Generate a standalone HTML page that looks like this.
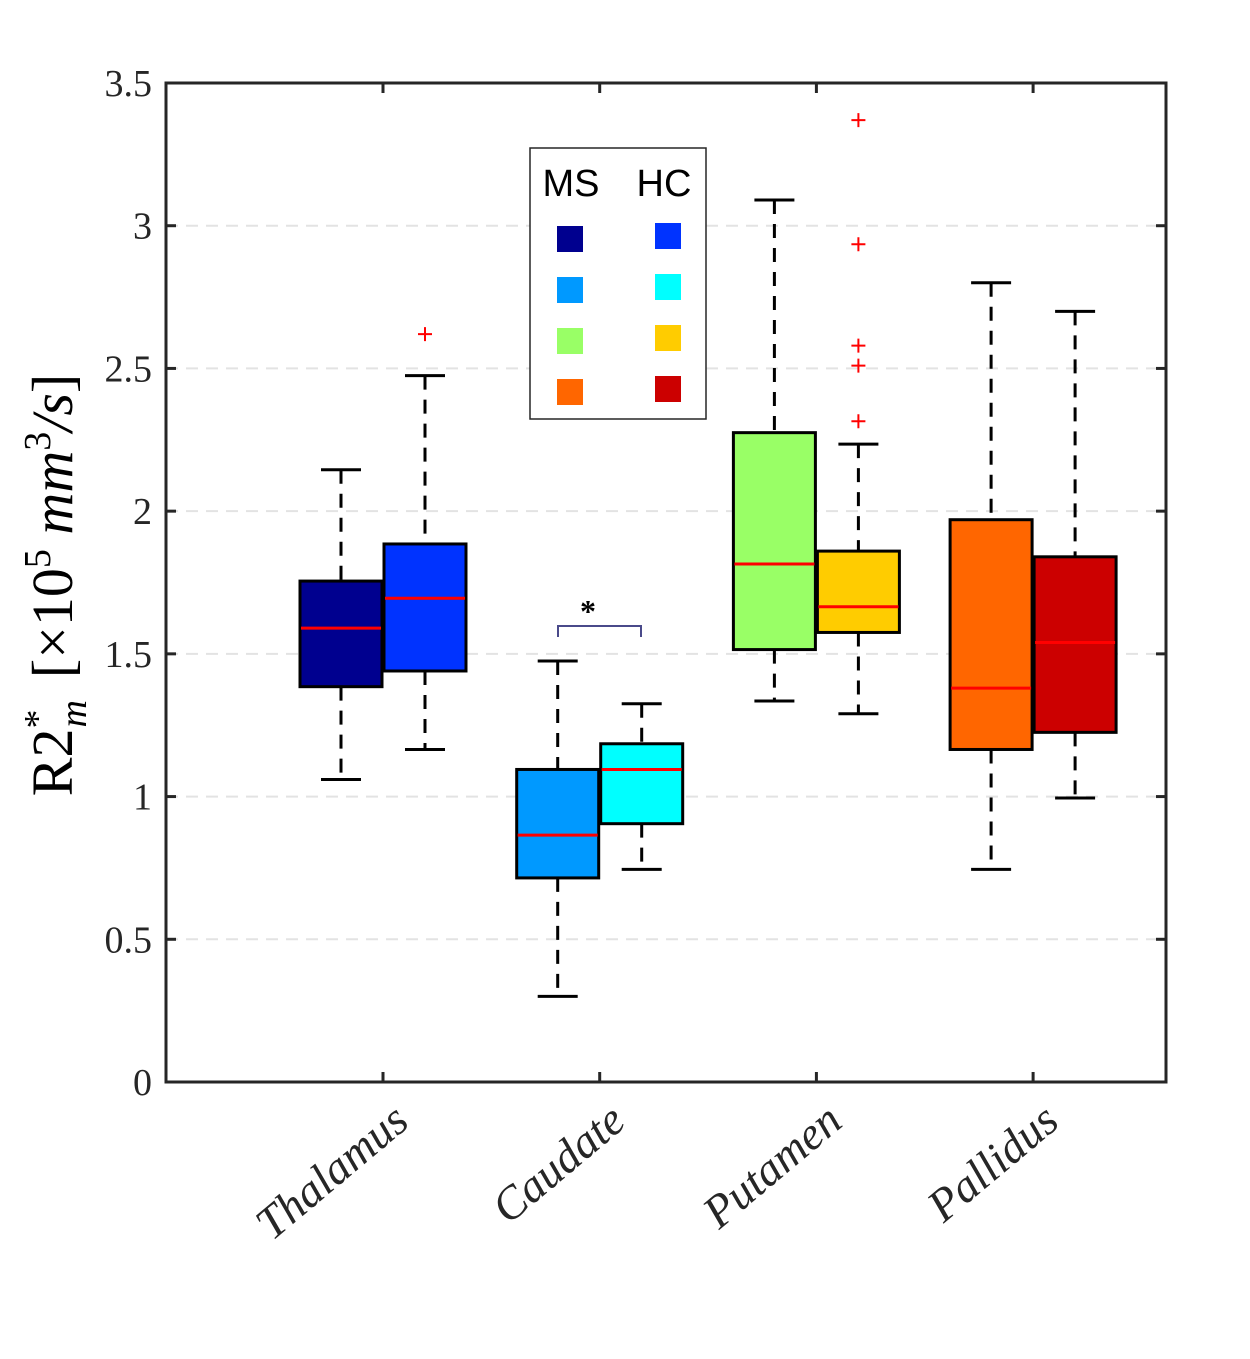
<!DOCTYPE html>
<html><head><meta charset="utf-8"><style>
html,body{margin:0;padding:0;background:#fff;}
svg text{font-family:"Liberation Serif",serif;}
</style></head><body>
<svg id="chart" width="1250" height="1354" xmlns="http://www.w3.org/2000/svg">
<g id="grid"></g>
<g id="boxes"></g>
<rect x="166" y="83" width="1000" height="999" fill="none" stroke="#262626" stroke-width="3"/>
<g id="axes"></g>
<g>
<path d="M558 637 V626 H641 V637" fill="none" stroke="#4a4a8a" stroke-width="2"/>
<text x="588" y="622" font-size="32" text-anchor="middle" font-family="Liberation Sans,sans-serif" font-weight="bold">*</text>
</g>
<g>
<rect x="530" y="148" width="176" height="271" fill="#fff" stroke="#262626" stroke-width="1.5"/>
<text x="571" y="196" font-size="38" text-anchor="middle" style="font-family:'Liberation Sans',sans-serif">MS</text>
<text x="664" y="196" font-size="38" text-anchor="middle" style="font-family:'Liberation Sans',sans-serif">HC</text>
<g id="legend-swatches"></g>
</g>
<text transform="translate(72,585) rotate(-90)" font-size="58" text-anchor="middle">R2<tspan font-size="38" dy="-22">*</tspan><tspan font-size="38" font-style="italic" dy="36" dx="-18">m</tspan><tspan dy="-14" dx="22">[×10</tspan><tspan font-size="38" dy="-22">5</tspan><tspan dy="22" font-style="italic"> mm</tspan><tspan font-size="38" dy="-22">3</tspan><tspan dy="22" font-style="italic">/s</tspan>]</text>
</svg>
<script>
const categories=["Thalamus","Caudate","Putamen","Pallidus"];
const msLow=[1.06,0.30,1.335,0.745];
const msQ1=[1.385,0.715,1.515,1.165];
const msMed=[1.59,0.865,1.815,1.38];
const msQ3=[1.755,1.095,2.275,1.97];
const msHigh=[2.145,1.475,3.09,2.80];
const hcLow=[1.165,0.745,1.29,0.995];
const hcQ1=[1.44,0.905,1.575,1.225];
const hcMed=[1.695,1.095,1.665,1.54];
const hcQ3=[1.885,1.185,1.86,1.84];
const hcHigh=[2.475,1.325,2.235,2.70];
const hcOutliers=[[2.62],[],[2.315,2.51,2.58,2.935,3.37],[]];
const msOutliers=[[],[],[],[]];
const yTicks=[0,0.5,1,1.5,2,2.5,3,3.5];
const msColors=["#00008f","#0099ff","#99ff66","#ff6600"];
const hcColors=["#0033ff","#00ffff","#ffcc00","#cc0000"];
const NS="http://www.w3.org/2000/svg";
const y=v=>1082-v*(999/3.5);
const x=i=>383+i*216.7;
function mk(tag,attrs,parent){const e=document.createElementNS(NS,tag);for(const k in attrs)e.setAttribute(k,attrs[k]);parent.appendChild(e);return e;}
const grid=document.getElementById('grid'),axes=document.getElementById('axes'),boxes=document.getElementById('boxes');
yTicks.forEach(t=>{
  if(t>0&&t<3.5){const g=mk('line',{x1:166,x2:1166,y1:y(t),y2:y(t),stroke:'#e3e3e3','stroke-width':2,'stroke-dasharray':'12,8'},grid);
  
  }
  mk('line',{x1:166,x2:176,y1:y(t),y2:y(t),stroke:'#262626','stroke-width':3},axes);
  mk('line',{x1:1156,x2:1166,y1:y(t),y2:y(t),stroke:'#262626','stroke-width':3},axes);
  const tx=mk('text',{x:152,y:y(t)+13,'font-size':38,'text-anchor':'end',fill:'#262626'},axes);
  tx.textContent=String(t);
  
  
});
categories.forEach((c,i)=>{
  const cx=x(i);
  mk('line',{x1:cx,x2:cx,y1:1082,y2:1072,stroke:'#262626','stroke-width':3},axes);
  mk('line',{x1:cx,x2:cx,y1:83,y2:93,stroke:'#262626','stroke-width':3},axes);
  const t=mk('text',{x:0,y:0,'font-size':46,'font-style':'italic','text-anchor':'end',transform:`translate(${cx+28},${1125}) rotate(-40)`,fill:'#262626'},axes);
  t.textContent=c;
  
  
  [[-42,msLow,msQ1,msMed,msQ3,msHigh,msColors,msOutliers,'ms'],[42,hcLow,hcQ1,hcMed,hcQ3,hcHigh,hcColors,hcOutliers,'hc']].forEach(s=>{
    const bx=cx+s[0],g=mk('g',{},boxes);
    
    
    mk('line',{x1:bx,x2:bx,y1:y(s[5][i]),y2:y(s[4][i]),stroke:'#000','stroke-width':3,'stroke-dasharray':'14,10'},g);
    mk('line',{x1:bx,x2:bx,y1:y(s[2][i]),y2:y(s[1][i]),stroke:'#000','stroke-width':3,'stroke-dasharray':'14,10'},g);
    mk('line',{x1:bx-20,x2:bx+20,y1:y(s[5][i]),y2:y(s[5][i]),stroke:'#000','stroke-width':3},g);
    mk('line',{x1:bx-20,x2:bx+20,y1:y(s[1][i]),y2:y(s[1][i]),stroke:'#000','stroke-width':3},g);
    mk('rect',{x:bx-41,y:y(s[4][i]),width:82,height:y(s[2][i])-y(s[4][i]),fill:s[6][i],stroke:'#000','stroke-width':3},g);
    mk('line',{x1:bx-40,x2:bx+40,y1:y(s[3][i]),y2:y(s[3][i]),stroke:'#ff0000','stroke-width':3},g);
    s[7][i].forEach(o=>{
      const p=mk('path',{d:`M${bx-7} ${y(o)}H${bx+7}M${bx} ${y(o)-7}V${y(o)+7}`,stroke:'#ff0000','stroke-width':2},g);
      
      
    });
  });
});
const lg=document.getElementById('legend-swatches');
categories.forEach((c,i)=>{
  const r1=mk('rect',{x:557,y:226+i*51,width:26,height:26,fill:msColors[i]},lg);
  
  
  const r2=mk('rect',{x:655,y:223+i*51,width:26,height:26,fill:hcColors[i]},lg);
  
  
});
</script>
</body></html>
